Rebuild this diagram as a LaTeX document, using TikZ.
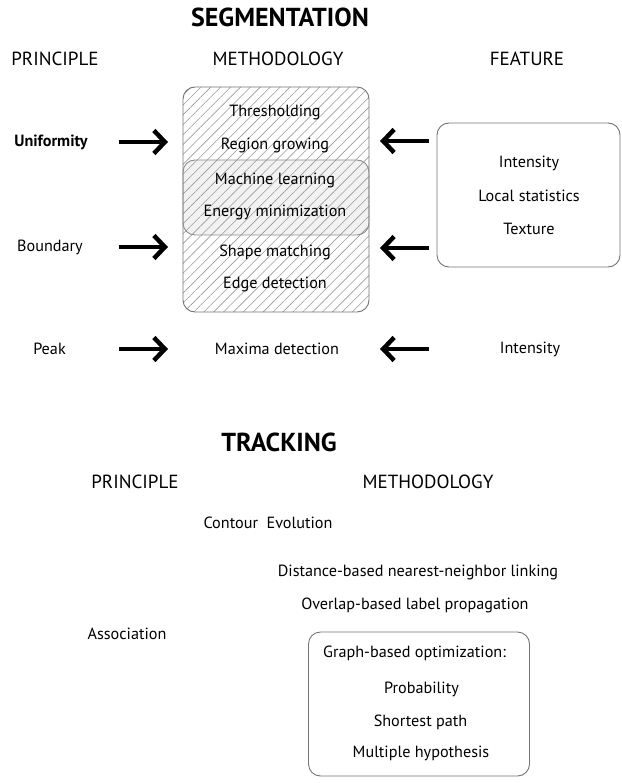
\documentclass[tikz,border=0pt]{standalone}
\usepackage{fontspec}
\setmainfont{PT Sans}
\usetikzlibrary{arrows.meta,patterns.meta}
\tikzset{
  txt/.style={font=\fontsize{16.2}{18}\selectfont, inner sep=0pt},
  head/.style={font=\fontsize{19}{22}\selectfont, inner sep=0pt},
  title/.style={font=\fontsize{26}{30}\selectfont\bfseries, inner sep=0pt},
  bigarrow/.style={line width=4.5pt, -{Straight Barb[length=11pt,width=23pt,line width=4.5pt]}},
  rbox/.style={draw=black!55, line width=0.9pt, rounded corners=12pt},
  hatch/.style={pattern={Lines[angle=45,distance=7pt,line width=0.6pt]}, pattern color=black!40, rounded corners=12pt},
}
\begin{document}
\begin{tikzpicture}[x=1pt,y=-1pt]
\useasboundingbox (0,0) rectangle (621,783);
% ===== SEGMENTATION =====
\node[title] (segt) at (280,17) {SEGMENTATION};
\node[head] (sp) at (55,59) {PRINCIPLE};
\node[head] (sm) at (278,59) {METHODOLOGY};
\node[head] (sf) at (527,59) {FEATURE};
% hatched box
\path[hatch] (183,87) rectangle (369,312);
\path[fill=black!5, rounded corners=12pt] (183,160) rectangle (369,235);
\path[hatch] (183,160) rectangle (369,235);
\node[rbox, minimum width=186pt, minimum height=225pt, inner sep=0pt] (mbox) at (276,199.5) {};
\node[rbox, draw=black!45, minimum width=186pt, minimum height=75pt, inner sep=0pt] (ibox) at (276,197.5) {};
\node[txt] (m1) at (275,112) {Thresholding};
\node[txt] (m2) at (275,145) {Region growing};
\node[txt] (m3) at (275,180) {Machine learning};
\node[txt] (m4) at (275,212) {Energy minimization};
\node[txt] (m5) at (275,252) {Shape matching};
\node[txt] (m6) at (275,284) {Edge detection};
\node[txt] (m7) at (277,349) {Maxima detection};
% principles
\node[txt, font=\fontsize{16.2}{18}\selectfont\bfseries] (p1) at (51,142) {Uniformity};
\node[txt] (p2) at (50,247) {Boundary};
\node[txt] (p3) at (49.5,349) {Peak};
% features
\node[rbox, minimum width=183pt, minimum height=144pt, inner sep=0pt] (fbox) at (528.5,195) {};
\node[txt] (f1) at (529,163) {Intensity};
\node[txt] (f2) at (529,196) {Local statistics};
\node[txt] (f3) at (529,229) {Texture};
\node[txt] (f4) at (530,349) {Intensity};
% arrows
\coordinate (a1s) at (119,142); \coordinate (a1e) at (168,142);
\coordinate (a2s) at (119,247); \coordinate (a2e) at (168,247);
\coordinate (a3s) at (119,349); \coordinate (a3e) at (168,349);
\coordinate (b1s) at (429,141); \coordinate (b1e) at (380,141);
\coordinate (b2s) at (429,248); \coordinate (b2e) at (380,248);
\coordinate (b3s) at (429,349); \coordinate (b3e) at (380,349);
\draw[bigarrow] (a1s) -- (a1e);
\draw[bigarrow] (a2s) -- (a2e);
\draw[bigarrow] (a3s) -- (a3e);
\draw[bigarrow] (b1s) -- (b1e);
\draw[bigarrow] (b2s) -- (b2e);
\draw[bigarrow] (b3s) -- (b3e);
% ===== TRACKING =====
\node[title] (trt) at (279,442) {TRACKING};
\node[head] (tp) at (135,482) {PRINCIPLE};
\node[head] (tm) at (428,482) {METHODOLOGY};
\node[txt] (t1) at (268,523) {Contour\ \ Evolution};
\node[txt] (t2) at (418,572) {Distance-based nearest-neighbor linking};
\node[txt] (t3) at (415,605) {Overlap-based label propagation};
\node[txt] (ta) at (127,634) {Association};
\node[rbox, minimum width=221pt, minimum height=144pt, inner sep=0pt] (gbox) at (419,704) {};
\node[txt] (g0) at (414.5,653) {Graph-based optimization:};
\node[txt] (g1) at (421.5,689) {Probability};
\node[txt] (g2) at (420.5,722) {Shortest path};
\node[txt] (g3) at (421,753) {Multiple hypothesis};
\end{tikzpicture}
\end{document}
